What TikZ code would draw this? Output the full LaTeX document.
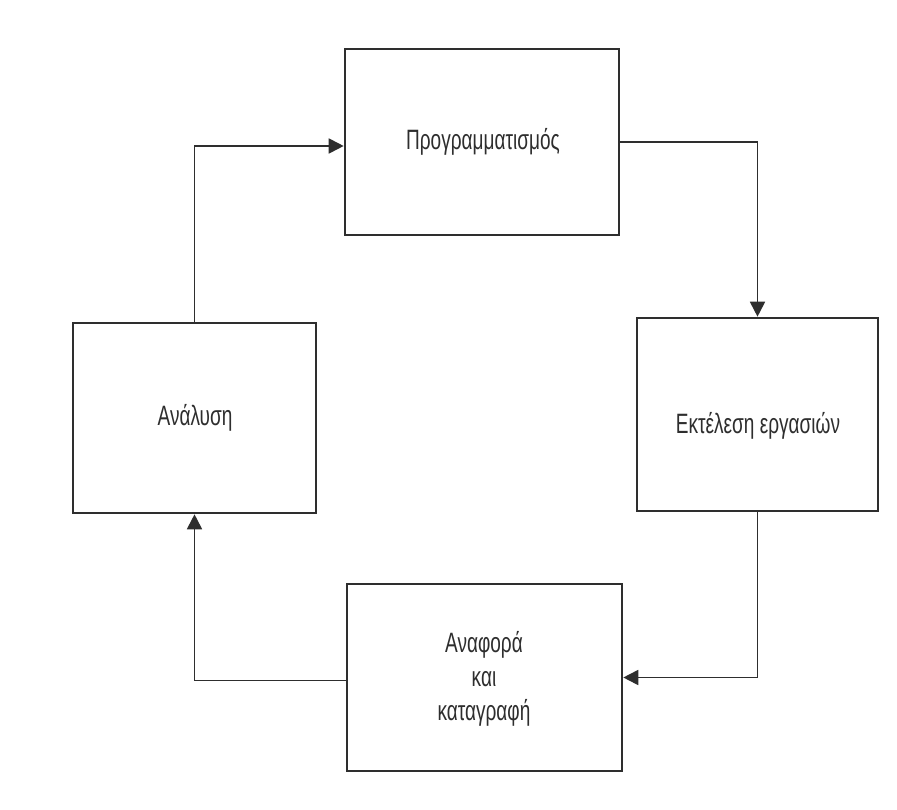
\documentclass[tikz,border=0pt]{standalone}
\usepackage{fontspec}
\setmainfont{Liberation Sans}[FakeStretch=0.68]
\usetikzlibrary{arrows.meta}
\definecolor{ink}{HTML}{2E2E2E}
\tikzset{
  box/.style={draw=ink, line width=2.6pt, inner sep=0pt, anchor=center},
  lbl/.style={inner sep=0pt, anchor=center, align=center, text=ink, font=\fontsize{28}{34}\selectfont},
  conn/.style={draw=ink, line width=1.8pt, -{Triangle[length=15pt,width=15pt]}}
}
\begin{document}
\begin{tikzpicture}[x=1pt,y=-1pt]
\fill[white] (0,0) rectangle (897,810);
\useasboundingbox (0,0) rectangle (897,810);
% boxes
\node[box, minimum width=274pt, minimum height=186pt] (prog) at (482,142) {};
\node[box, minimum width=243pt, minimum height=190pt] (anal) at (194.5,418) {};
\node[box, minimum width=241pt, minimum height=193pt] (ekt) at (757.5,414.5) {};
\node[box, minimum width=275pt, minimum height=187pt] (anaf) at (484.5,677.5) {};
% labels
\node[lbl] (tprog) at (483,142) {Προγραμματισμός};
\node[lbl] (tanal) at (195,418) {Ανάλυση};
\node[lbl] (tekt) at (758,426) {Εκτέλεση εργασιών};
\node[lbl, font=\fontsize{28}{34}\selectfont] (tanaf) at (484,679) {Αναφορά\\και\\καταγραφή};
% connectors
\draw[conn] (anal.north) |- ([yshift=-4pt]prog.west);
\draw[conn] (prog.east) -| (ekt.north);
\draw[conn] (ekt.south) |- (anaf.east);
\draw[conn] ([yshift=-3pt]anaf.west) -| (anal.south);
\end{tikzpicture}
\end{document}
